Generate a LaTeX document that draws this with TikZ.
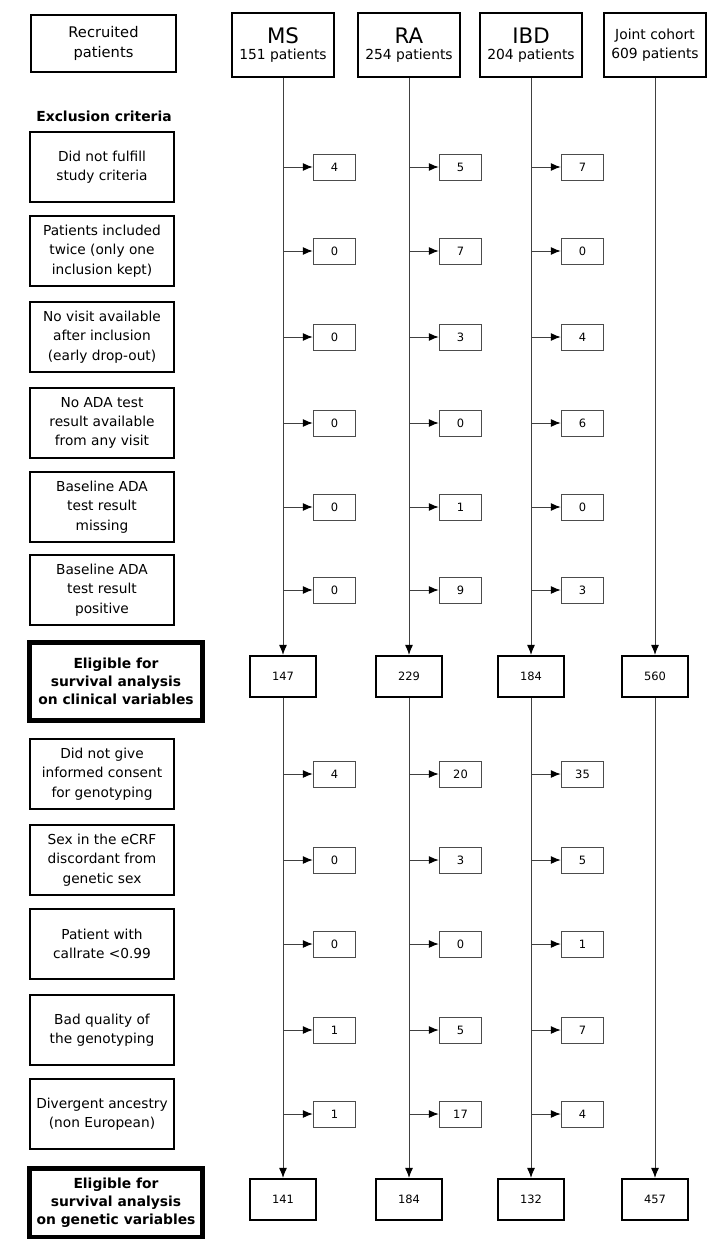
\documentclass[tikz,border=0pt]{standalone}
\usepackage{fontspec}
\setmainfont{DejaVu Sans}
\usetikzlibrary{arrows.meta,positioning}

\begin{document}
\begin{tikzpicture}[x=0.75pt,y=-0.75pt,
  crit/.style={draw,line width=1.4pt,minimum width=108pt,minimum height=52pt,
    align=center,inner sep=1pt,font=\fontsize{10.3}{14.5}\selectfont},
  elig/.style={crit,line width=3.6pt,minimum width=130pt,
    font=\bfseries\fontsize{10.4}{13.6}\selectfont},
  cohort/.style={draw,line width=1.4pt,minimum width=77pt,minimum height=48pt,
    align=center,inner sep=1pt,font=\fontsize{10.4}{12}\selectfont},
  count/.style={draw,line width=1.4pt,minimum width=50pt,minimum height=31pt,
    font=\fontsize{8.6}{10}\selectfont},
  excl/.style={draw=black!70,line width=0.6pt,minimum width=32pt,minimum height=19.5pt,
    inner sep=1pt,font=\fontsize{8.6}{10}\selectfont},
  flow/.style={draw=black!75,line width=0.75pt,-{Latex[length=7.5pt,width=6pt,color=black]}}]
  \path [fill=white, use as bounding box] (0,0) rectangle (717,1239);

  % headers
  \node [crit, minimum width=109pt, minimum height=43pt, font=\fontsize{11}{15}\selectfont]
    (recr) at (103.5,43.5) {Recruited\\patients};
  \foreach \col/\x/\lab/\n in {ms/283/MS/151, ra/409/RA/254, ibd/531/IBD/204}
    \node [cohort] (\col) at (\x,45) {{\fontsize{16}{18}\selectfont\lab}\\\n~patients};
  \node [cohort, font=\fontsize{10.4}{14}\selectfont] (jc) at (655,45) {Joint cohort\\609 patients};
  \node [font=\bfseries\fontsize{10.4}{12}\selectfont] (exhead) at (104,116) {Exclusion criteria};

  % criteria on the left
  \foreach \y/\txt [count=\r] in {
    167/{Did not fulfill\\study criteria},
    251/{Patients included\\twice (only one\\inclusion kept)},
    337/{No visit available\\after inclusion\\(early drop-out)},
    423/{No ADA test\\result available\\from any visit},
    507/{Baseline ADA\\test result\\missing},
    590/{Baseline ADA\\test result\\positive},
    774/{Did not give\\informed consent\\for genotyping},
    860/{Sex in the eCRF\\discordant from\\genetic sex},
    944/{Patient with\\callrate <0.99},
    1030/{Bad quality of\\the genotyping},
    1114/{Divergent ancestry\\(non European)}}
    \node [crit] (crit\r) at (102,\y) {\txt};
  \node [elig, minimum height=58pt] (clin) at (116,681.5)
    {Eligible for\\survival analysis\\on clinical variables};
  \node [elig, minimum height=52pt] (gene) at (116,1203)
    {Eligible for\\survival analysis\\on genetic variables};

  % eligible counts
  \foreach \col/\x/\na/\nb in {ms/283/147/141, ra/409/229/184, ibd/531/184/132, jc/655/560/457}{
    \node [count] (\col-c1) at (\x,676.5) {\na};
    \node [count] (\col-c2) at (\x,1199.5) {\nb};
    \draw [flow] (\col) -- (\col-c1);
    \draw [flow] (\col-c1) -- (\col-c2);
  }

  % excluded patients per row
  \foreach \y/\na/\nb/\nc [count=\r] in {167/4/5/7, 251/0/7/0, 337/0/3/4, 423/0/0/6,
      507/0/1/0, 590/0/9/3, 774/4/20/35, 860/0/3/5, 944/0/0/1, 1030/1/5/7, 1114/1/17/4}
    \foreach \col/\x/\v in {ms/283/\na, ra/409/\nb, ibd/531/\nc}{
      \coordinate (\col-j\r) at (\x,\y);
      \node [excl] (\col-e\r) at (\x+51.5,\y) {\v};
      \draw [flow] (\col-j\r) -- (\col-e\r);
    }
\end{tikzpicture}
\end{document}
